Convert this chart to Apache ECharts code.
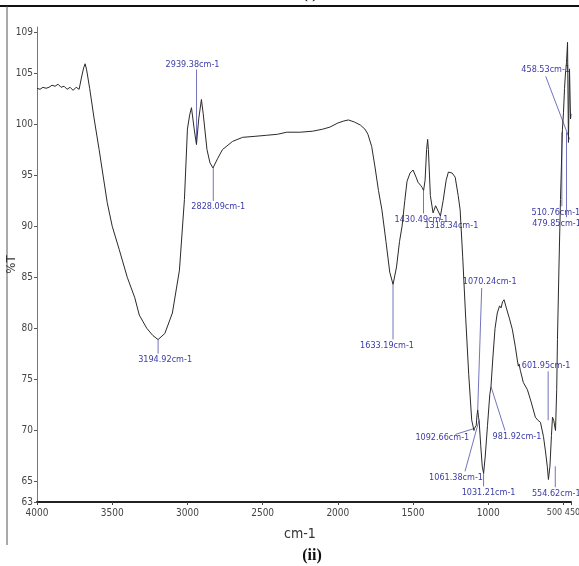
<!DOCTYPE html>
<html>
<head>
<meta charset="utf-8">
<script src="https://cdn.jsdelivr.net/npm/echarts@6/dist/echarts.min.js"></script>
<style>
  html, body { margin: 0; padding: 0; background: #fff; }
  #chart { width: 579px; height: 566px; }
</style>
</head>
<body>
<div id="chart"></div>
<script>
// spectrum (wavenumber in cm-1, %T)
const wavenumber = [4000,3980,3960,3940,3920,3900,3880,3860,3840,3820,3800,3780,3760,3740,3720,3705,3690,3680,3670,3650,3620,3587,3533,3500,3453,3400,3350,3320,3270,3230,3195,3150,3100,3053,3020,3000,2985,2973,2955,2940,2925,2907,2895,2870,2850,2830,2800,2767,2700,2633,2550,2473,2400,2340,2250,2167,2100,2053,2000,1960,1930,1890,1850,1820,1800,1775,1753,1730,1707,1680,1655,1633,1610,1590,1573,1555,1540,1520,1500,1480,1467,1450,1440,1430,1420,1410,1403,1398,1385,1367,1350,1340,1318,1300,1280,1265,1253,1240,1220,1200,1187,1170,1150,1130,1110,1095,1092,1080,1075,1070,1065,1061,1050,1040,1031,1020,1005,990,982,970,955,940,925,915,905,895,880,860,840,820,807,800,795,787,767,740,715,687,670,653,633,620,607,600,590,580,573,565,553,545,540,530,520,507,500,493,487,480,473,467,460,453,450];
const transmit = [103.5,103.4,103.6,103.5,103.6,103.8,103.7,103.9,103.6,103.7,103.4,103.6,103.3,103.6,103.4,104.5,105.5,105.9,105.3,103.5,100.5,97.5,92.3,90,87.7,85,83,81.3,80,79.3,78.9,79.5,81.5,85.7,92.6,99.5,100.9,101.6,99.5,98,100.5,102.4,101,97.5,96.2,95.7,96.6,97.5,98.3,98.7,98.8,98.9,99,99.2,99.2,99.3,99.5,99.7,100.1,100.3,100.4,100.2,99.9,99.5,99,97.8,95.8,93.5,91.6,88.5,85.5,84.3,86,88.5,90,92.5,94.4,95.2,95.5,94.8,94.3,94,93.8,93.5,94.5,97.5,98.5,97.5,93,91.3,92,91.9,91,92.5,94.5,95.3,95.4,95.2,94.8,93,91.6,87,81,75.5,71,70,70.2,70.5,71.5,72,71.3,71,68.5,66.5,65.8,67.5,70.5,73.5,74.3,77,80,81.5,82.2,82,82.6,82.8,82,81,79.9,78.2,76.9,76.3,76.5,75.9,74.7,74,72.8,71.3,71,70.8,69.4,68,66.4,65.2,66.5,69.5,71.3,71,70,74,78.9,86,92.6,99.5,101.1,103.5,104.9,106,108,98.2,105.4,100.5,101];

// peak annotations
const peakWn = [2939.38, 2828.09, 3194.92, 1633.19, 1430.49, 1318.34, 1070.24, 1092.66, 1061.38, 1031.21, 981.92, 601.95, 554.62, 510.76, 479.85, 458.53];
const peakT = [98.0, 95.7, 78.9, 84.3, 93.5, 91.0, 72, 70.2, 71, 65.8, 74.3, 71, 66.5, 99.2, 99.2, 98.5];
const peakText = ['2939.38cm-1', '2828.09cm-1', '3194.92cm-1', '1633.19cm-1', '1430.49cm-1', '1318.34cm-1', '1070.24cm-1', '1092.66cm-1', '1061.38cm-1', '1031.21cm-1', '981.92cm-1', '601.95cm-1', '554.62cm-1', '510.76cm-1', '479.85cm-1', '458.53cm-1'];
// where each label sits relative to its peak: [text dx, text dy, line end dx, line end dy]
const labelOffset = [[-4,-80,0,-75],[5,39,0,33],[7,20,0,14],[-6,61,0,55],[-2,29,0,23],[11,10,0,4],[12,-128,4,-122],[-32,9,-19,6],[-23,57,-14,51],[5,19,0,13],[26,50,14,44],[-2,-55,0,-49],[1,27,0,21],[-6,80,0,74],[-10,91,0,85],[-24,-70,-24,-63]];

const xTicks = [4000, 3500, 3000, 2500, 2000, 1500, 1000, 500, 450];
const yTicks = [63, 65, 70, 75, 80, 85, 90, 95, 100, 105, 109];

const tickFont = '"Liberation Sans Narrow", "DejaVu Sans Condensed", "Roboto Condensed", sans-serif';

const chart = echarts.init(document.getElementById('chart'));

// 500 and 450 sit too close to be laid out separately, so 500 carries both
const xLabel = (v) => {
  if (v === 450) return '';
  if (v === 500) return '{pair|500 450}';
  return String(v);
};

const option = {
  animation: false,
  backgroundColor: '#fff',
  grid: { left: 37, right: 8, top: 27, bottom: 64, outerBoundsMode: 'none', containLabel: false },
  xAxis: {
    type: 'value',
    inverse: true,
    min: 450,
    max: 4000,
    name: 'cm-1',
    nameLocation: 'middle',
    nameGap: 25,
    nameTextStyle: { fontFamily: tickFont, fontSize: 14, color: '#333', padding: [0, 8, 0, 0] },
    axisLine: { lineStyle: { color: '#222', width: 2 } },
    axisTick: { customValues: xTicks, length: 3, lineStyle: { color: '#444' } },
    axisLabel: {
      customValues: xTicks, interval: 0, fontFamily: tickFont, fontSize: 10, color: '#444', margin: 6,
      formatter: xLabel,
      rich: { pair: { fontFamily: tickFont, fontSize: 9, color: '#444' } },
      hideOverlap: false, showMinLabel: true, showMaxLabel: true
    },
    splitLine: { show: false }
  },
  yAxis: {
    type: 'value',
    min: 63,
    max: 109.5,
    name: '%T',
    nameLocation: 'middle',
    nameGap: 19,
    nameMoveOverlap: false,
    nameRotate: 90,
    nameTextStyle: { fontFamily: tickFont, fontSize: 13, color: '#333' },
    axisLine: { show: true, lineStyle: { color: '#777', width: 1 } },
    axisTick: { customValues: yTicks, length: 3, lineStyle: { color: '#555' } },
    axisLabel: { customValues: yTicks, interval: 0, fontFamily: tickFont, fontSize: 10, color: '#444', margin: 4, hideOverlap: false },
    splitLine: { show: false }
  },
  series: [{
    type: 'line',
    data: wavenumber.map((w, i) => [w, transmit[i]]),
    symbol: 'none',
    lineStyle: { color: '#2a2a2a', width: 1 },
    silent: true
  }]
};
chart.setOption(option);

const graphics = [
  { type: 'line', shape: { x1: 0, y1: 6, x2: 579, y2: 6 }, style: { stroke: '#111', lineWidth: 2 } },
  { type: 'line', shape: { x1: 7, y1: 6, x2: 7, y2: 545 }, style: { stroke: '#555', lineWidth: 1 } },
  { type: 'text', x: 310, y: -6, style: { text: '(i)', font: 'bold 16px "Liberation Serif", serif', fill: '#111', align: 'center', verticalAlign: 'middle' } },
  { type: 'text', x: 312, y: 556, style: { text: '(ii)', font: 'bold 16px "Liberation Serif", serif', fill: '#111', align: 'center', verticalAlign: 'middle' } }
];
peakWn.forEach((w, i) => {
  const p = chart.convertToPixel({ gridIndex: 0 }, [w, peakT[i]]);
  const o = labelOffset[i];
  graphics.push({
    type: 'line', silent: true,
    shape: { x1: p[0], y1: p[1], x2: p[0] + o[2], y2: p[1] + o[3] },
    style: { stroke: '#7474bc', lineWidth: 1 }
  });
  graphics.push({
    type: 'text', silent: true,
    x: p[0] + o[0], y: p[1] + o[1],
    style: { text: peakText[i], font: '9px ' + tickFont, fill: '#3b3ba8', align: 'center', verticalAlign: 'middle' }
  });
});
chart.setOption({ graphic: graphics });
</script>
</body>
</html>
